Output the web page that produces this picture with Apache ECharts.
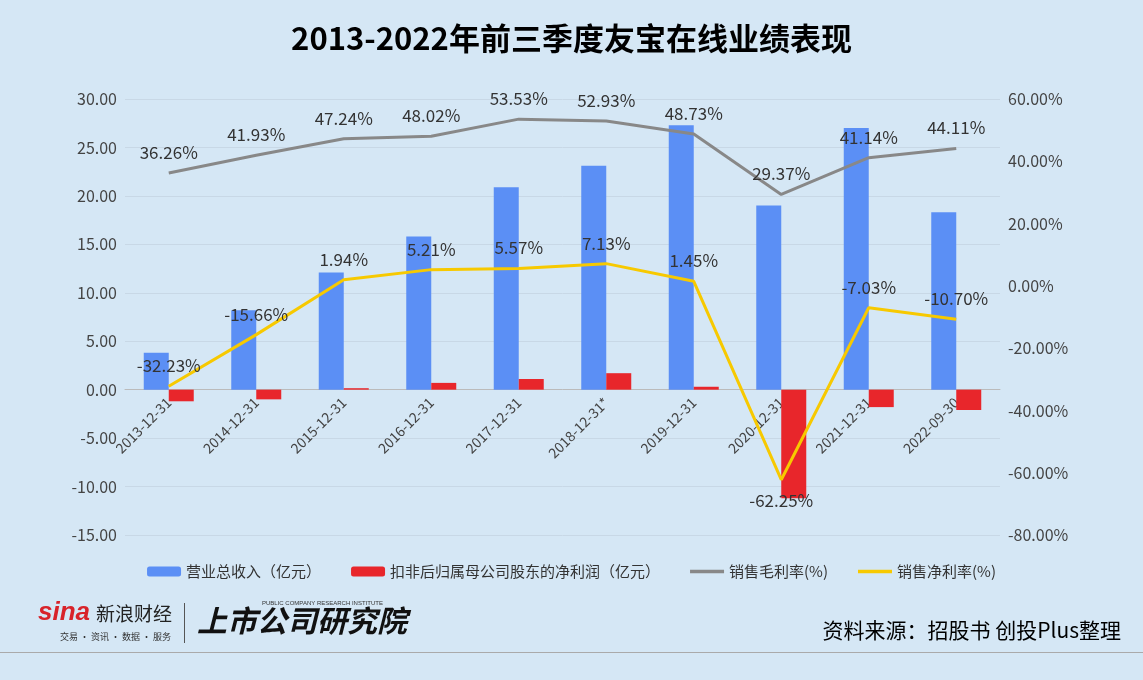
<!DOCTYPE html>
<html>
<head>
<meta charset="utf-8">
<script src="https://cdn.jsdelivr.net/npm/echarts@6/dist/echarts.min.js"></script>
<style>
html,body{margin:0;padding:0;height:100%;background:#d5e7f5}
#main{width:1143px;height:680px}
</style>
</head>
<body>
<div id="main"></div>
<script>
var categories = ['2013-12-31','2014-12-31','2015-12-31','2016-12-31','2017-12-31','2018-12-31*','2019-12-31','2020-12-31','2021-12-31','2022-09-30'];
var revenue = [3.8, 8.2, 12.1, 15.8, 20.9, 23.1, 27.3, 19.0, 27.0, 18.3];
var netProfit = [-1.2, -1.0, 0.15, 0.7, 1.1, 1.7, 0.3, -11.2, -1.8, -2.1];
var grossMargin = [36.26, 41.93, 47.24, 48.02, 53.53, 52.93, 48.73, 29.37, 41.14, 44.11];
var netMargin = [-32.23, -15.66, 1.94, 5.21, 5.57, 7.13, 1.45, -62.25, -7.03, -10.70];

var chart = echarts.init(document.getElementById('main'));
var font = 'Microsoft YaHei, Noto Sans CJK SC, sans-serif';
var pct = function (p) { return p.value.toFixed(2) + '%'; };
var lineIcon = 'path://M0,0H20V2H0Z';
chart.setOption({
    backgroundColor: '#d5e7f5',
    textStyle: {fontFamily: font},
    title: {
        text: '2013-2022年前三季度友宝在线业绩表现',
        left: 'center', top: 18,
        textStyle: {fontSize: 31, fontWeight: 'bold', color: '#000', fontFamily: font}
    },
    legend: {
        top: 559, left: 'center', itemWidth: 34, itemHeight: 10, itemGap: 30,
        textStyle: {fontSize: 15, color: '#333'},
        data: ['营业总收入（亿元）', '扣非后归属母公司股东的净利润（亿元）',
            {name: '销售毛利率(%)', icon: lineIcon, itemStyle: {color: '#888'}},
            {name: '销售净利率(%)', icon: lineIcon, itemStyle: {color: '#f7c900'}}]
    },
    grid: {left: 125, right: 143, top: 99, bottom: 145},
    xAxis: {
        type: 'category', data: categories,
        axisLine: {onZero: true, onZeroAxisIndex: 0, lineStyle: {color: '#bbb'}},
        axisTick: {show: false},
        axisLabel: {rotate: 45, fontSize: 14, color: '#444', interval: 0, margin: -135}
    },
    yAxis: [{
        type: 'value', min: -15, max: 30, interval: 5,
        axisLabel: {fontSize: 16, color: '#444', formatter: function (v) { return v.toFixed(2); }},
        splitLine: {lineStyle: {color: '#c8d8e6'}},
        axisLine: {show: false}, axisTick: {show: false}
    }, {
        type: 'value', min: -80, max: 60, interval: 20,
        axisLabel: {fontSize: 16, color: '#444', formatter: function (v) { return v.toFixed(2) + '%'; }},
        splitLine: {show: false}, axisLine: {show: false}, axisTick: {show: false}
    }],
    series: [{
        name: '营业总收入（亿元）', type: 'bar', data: revenue, barWidth: 25, barGap: '0%',
        itemStyle: {color: '#5b8ff5'}
    }, {
        name: '扣非后归属母公司股东的净利润（亿元）', type: 'bar', data: netProfit, barWidth: 25,
        itemStyle: {color: '#e8262b'}
    }, {
        name: '销售毛利率(%)', type: 'line', yAxisIndex: 1, data: grossMargin,
        symbol: 'circle', symbolSize: 0, showSymbol: true,
        lineStyle: {color: '#888', width: 3}, itemStyle: {color: '#888'},
        label: {show: true, position: 'top', distance: 12, fontSize: 17, color: '#333', formatter: pct}
    }, {
        name: '销售净利率(%)', type: 'line', yAxisIndex: 1,
        data: netMargin.map(function (v, i) {
            return i === 7 ? {value: v, label: {position: 'bottom', distance: 12}} : v;
        }),
        symbol: 'circle', symbolSize: 0, showSymbol: true,
        lineStyle: {color: '#f7c900', width: 3}, itemStyle: {color: '#f7c900'},
        label: {show: true, position: 'top', distance: 12, fontSize: 17, color: '#333', formatter: pct}
    }],
    graphic: [
        {type: 'text', left: 38, top: 600, style: {text: 'sina', fontSize: 26, fontWeight: 'bold', fontStyle: 'italic', fill: '#d8232a', fontFamily: 'Arial'}},
        {type: 'text', left: 96, top: 604, style: {text: '新浪财经', fontSize: 19, fill: '#222', fontFamily: font}},
        {type: 'text', left: 60, top: 632, style: {text: '交易 · 资讯 · 数据 · 服务', fontSize: 9, fill: '#333', fontFamily: font}},
        {type: 'rect', shape: {x: 184, y: 603, width: 1, height: 40}, style: {fill: '#555'}},
        {type: 'text', left: 197, top: 606, style: {text: '上市公司研究院', fontSize: 30, fontWeight: 'bold', fontStyle: 'italic', fill: '#111', fontFamily: font}},
        {type: 'text', left: 262, top: 600, style: {text: 'PUBLIC COMPANY RESEARCH INSTITUTE', fontSize: 6, fill: '#333'}},
        {type: 'text', right: 22, top: 620, style: {text: '资料来源：招股书 创投Plus整理', fontSize: 21, fill: '#000', fontFamily: font}},
        {type: 'rect', shape: {x: 0, y: 652, width: 1143, height: 1}, style: {fill: '#aaa'}}
    ]
});
</script>
</body>
</html>
